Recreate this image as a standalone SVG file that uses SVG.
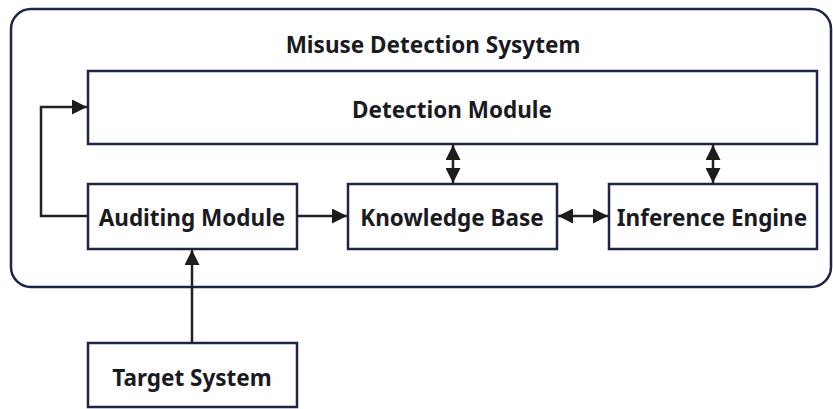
<svg xmlns="http://www.w3.org/2000/svg" width="833" height="409" viewBox="0 0 833 409">
<style>
.box{fill:#fff;stroke:#1e2546;stroke-width:2.5}
.lbl{font-family:"Noto Sans","Liberation Sans",sans-serif;font-weight:bold;font-size:22.5px;fill:#1a1a22;text-anchor:middle}
.con{fill:none;stroke:#222;stroke-width:2.5}
</style>
<defs>
<marker id="ah" viewBox="0 0 10 10" refX="10" refY="5" markerWidth="6.2" markerHeight="6" orient="auto-start-reverse" markerUnits="strokeWidth">
<path d="M0,0 L10,5 L0,10 z" fill="#1c1c1c"/>
</marker>
</defs>
<g id="system">
<rect class="box" x="11" y="9" width="820" height="278" rx="20"/>
<text class="lbl" x="433" y="53">Misuse Detection Sysytem</text>
</g>
<g id="detection">
<rect class="box" x="88" y="71" width="729" height="73"/>
<text class="lbl" x="452" y="118">Detection Module</text>
</g>
<g id="auditing">
<rect class="box" x="88" y="184" width="209" height="65"/>
<text class="lbl" x="192" y="226">Auditing Module</text>
</g>
<g id="knowledge">
<rect class="box" x="348" y="184" width="209" height="65"/>
<text class="lbl" x="452" y="226">Knowledge Base</text>
</g>
<g id="inference">
<rect class="box" x="609" y="184" width="208" height="65"/>
<text class="lbl" x="712" y="226">Inference Engine</text>
</g>
<g id="target">
<rect class="box" x="88" y="343" width="209" height="64"/>
<text class="lbl" x="192" y="386">Target System</text>
</g>
<g id="connectors">
<path class="con" d="M88,216 H41 V107 H87" marker-end="url(#ah)"/>
<path class="con" d="M297,216 H347" marker-end="url(#ah)"/>
<path class="con" d="M192,343 V250" marker-end="url(#ah)"/>
<path class="con" d="M453,145 V183" marker-start="url(#ah)" marker-end="url(#ah)"/>
<path class="con" d="M713,145 V183" marker-start="url(#ah)" marker-end="url(#ah)"/>
<path class="con" d="M558,216 H608" marker-start="url(#ah)" marker-end="url(#ah)"/>
</g>
</svg>
